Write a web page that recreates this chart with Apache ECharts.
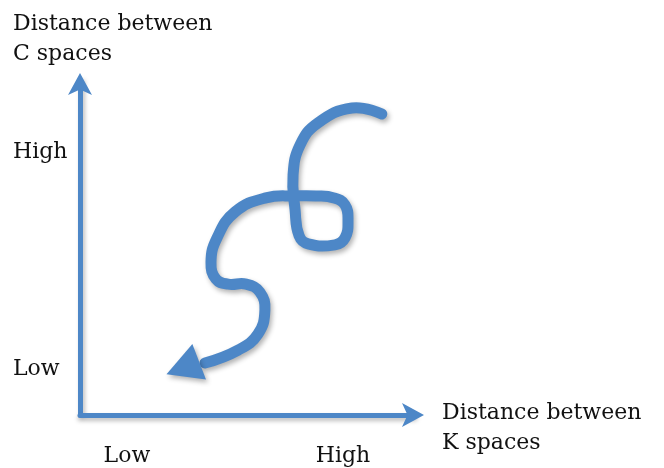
<!DOCTYPE html>
<html>
<head>
<meta charset="utf-8">
<script src="https://cdn.jsdelivr.net/npm/echarts@6/dist/echarts.min.js"></script>
<style>
  html, body { margin: 0; padding: 0; background: #fff; }
  #chart { width: 664px; height: 468px; }
</style>
</head>
<body>
<div id="chart"></div>
<script>
// path of the curve, from the top-right start to the arrow (0..100 on both axes)
const pathX = [90.1, 81.2, 71.0, 65.7, 63.6, 64.2, 65.4, 68.1, 76.1, 79.1, 80.0, 79.1, 75.8, 70.4, 64.5, 55.5, 46.3, 40.9, 39.1, 40.6, 44.2, 49.6, 53.7, 55.2, 53.1, 47.2, 37.3]
const pathY = [90.4, 92.2, 87.7, 81.1, 72.1, 61.6, 53.8, 51.4, 51.1, 53.2, 58.6, 63.1, 65.2, 65.8, 65.8, 65.2, 61.0, 53.2, 45.9, 40.8, 39.3, 39.3, 36.9, 31.5, 24.3, 19.5, 15.6]
// arrow head at the end of the curve
const headX = [30.7]
const headY = [14.1]

const xTickValues = [14, 78.5]
const xTickLabels = ['Low', 'High']
const yTickValues = [13.6, 78.8]
const yTickLabels = ['Low', 'High']

const blue = '#4d87c7'
const ink = '#111'
const font = 'DejaVu Serif'

function pickLabel(values, labels) {
  return function(v) {
    let best = 0
    for (let i = 1; i < values.length; i++) {
      if (Math.abs(values[i] - v) < Math.abs(values[best] - v)) best = i
    }
    return labels[best]
  }
}

const nameStyle = {
  fontFamily: font,
  fontSize: 22,
  fontWeight: 'normal',
  lineHeight: 30,
  color: ink
}

const chart = echarts.init(document.getElementById('chart'))
chart.setOption({
  backgroundColor: '#fff',
  animation: false,
  // axis titles
  title: [
    { text: 'Distance between\nC spaces', left: 8, top: 4, textStyle: nameStyle },
    { text: 'Distance between\nK spaces', left: 437, top: 393, textStyle: nameStyle }
  ],
  grid: { left: 80, top: 82, right: 249, bottom: 53 },
  xAxis: {
    type: 'value',
    min: 0,
    max: 100,
    axisLine: {
      symbol: ['none', 'arrow'],
      symbolSize: [18, 22],
      symbolOffset: [0, 9],
      lineStyle: { color: blue, width: 5, shadowColor: 'rgba(0,0,0,0.25)', shadowBlur: 4, shadowOffsetY: 3 }
    },
    axisTick: { show: false },
    splitLine: { show: false },
    axisLabel: {
      customValues: xTickValues,
      formatter: pickLabel(xTickValues, xTickLabels),
      fontFamily: font,
      fontSize: 22,
      color: ink,
      margin: 30
    }
  },
  yAxis: {
    type: 'value',
    min: 0,
    max: 100,
    axisLine: {
      symbol: ['none', 'arrow'],
      symbolSize: [18, 22],
      symbolOffset: [0, 9],
      lineStyle: { color: blue, width: 5, shadowColor: 'rgba(0,0,0,0.25)', shadowBlur: 4, shadowOffsetX: 2 }
    },
    axisTick: { show: false },
    splitLine: { show: false },
    axisLabel: {
      customValues: yTickValues,
      formatter: pickLabel(yTickValues, yTickLabels),
      fontFamily: font,
      fontSize: 22,
      color: ink,
      align: 'left',
      margin: 67
    }
  },
  series: [
    {
      // the whole curve as one smoothed polyline, placed through the axes
      type: 'custom',
      data: [[pathX[0], pathY[0]]],
      renderItem: function(params, api) {
        const pts = pathX.map((x, i) => api.coord([x, pathY[i]]))
        return {
          type: 'polyline',
          shape: { points: pts, smooth: 0.45, smoothConstraint: false },
          style: {
            fill: null,
            stroke: blue,
            lineWidth: 11,
            lineCap: 'round',
            lineJoin: 'round',
            shadowColor: 'rgba(0,0,0,0.3)',
            shadowBlur: 5,
            shadowOffsetX: 2,
            shadowOffsetY: 3
          }
        }
      },
      z: 3
    },
    {
      type: 'scatter',
      data: headX.map((x, i) => [x, headY[i]]),
      symbol: 'triangle',
      symbolSize: [38, 35],
      symbolRotate: 111,
      itemStyle: {
        color: blue,
        opacity: 1,
        shadowColor: 'rgba(0,0,0,0.3)',
        shadowBlur: 5,
        shadowOffsetX: 2,
        shadowOffsetY: 3
      },
      z: 4
    }
  ]
})
</script>
</body>
</html>
